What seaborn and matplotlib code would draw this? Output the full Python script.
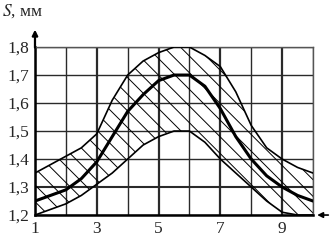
import numpy as np
import pandas as pd
import seaborn as sns
import matplotlib.pyplot as plt

# values (x step 0.5)
x_vals = [1, 1.5, 2, 2.5, 3, 3.5, 4, 4.5, 5, 5.5, 6, 6.5, 7, 7.5, 8, 8.5, 9, 9.5, 10]
upper = [1.35, 1.38, 1.41, 1.44, 1.49, 1.61, 1.70, 1.75, 1.78, 1.80, 1.80, 1.77,
         1.73, 1.64, 1.52, 1.44, 1.40, 1.37, 1.35]
middle = [1.25, 1.27, 1.29, 1.33, 1.39, 1.48, 1.57, 1.63, 1.68, 1.70, 1.70, 1.66,
          1.58, 1.48, 1.40, 1.34, 1.30, 1.27, 1.25]
lower = [1.20, 1.22, 1.24, 1.27, 1.31, 1.35, 1.40, 1.45, 1.48, 1.50, 1.50, 1.46,
         1.40, 1.35, 1.30, 1.25, 1.21, 1.20, 1.20]

x_ticks = list(range(1, 11))
x_labels = ["1", "", "3", "", "5", "", "7", "", "9", ""]
y_ticks = [1.2, 1.3, 1.4, 1.5, 1.6, 1.7, 1.8]
y_labels = ["1,2", "1,3", "1,4", "1,5", "1,6", "1,7", "1,8"]

df = pd.DataFrame({"x": x_vals, "upper": upper, "middle": middle, "lower": lower})

sns.set_style("white")
plt.rcParams["font.family"] = ["Liberation Serif", "DejaVu Serif"]
plt.rcParams["mathtext.fontset"] = "stix"
plt.rcParams["hatch.color"] = "black"
plt.rcParams["hatch.linewidth"] = 0.7

fig = plt.figure(figsize=(3.32, 2.40), dpi=100)
ax = fig.add_axes([0.1054, 0.104, 0.8374, 0.700])

ax.fill_between(df["x"], df["lower"], df["upper"], facecolor="none",
                edgecolor="black", hatch="\\\\", linewidth=0, zorder=2)
sns.lineplot(data=df, x="x", y="upper", color="black", linewidth=1.2, ax=ax, zorder=3)
sns.lineplot(data=df, x="x", y="lower", color="black", linewidth=1.2, ax=ax, zorder=3)
sns.lineplot(data=df, x="x", y="middle", color="black", linewidth=2.2, ax=ax, zorder=4)

ax.set_xlim(1, 10)
ax.set_ylim(1.2, 1.8)
ax.set_xticks(x_ticks)
ax.set_xticklabels(x_labels)
ax.set_yticks(y_ticks)
ax.set_yticklabels(y_labels)
ax.tick_params(length=0, labelsize=12.5, pad=4)
ax.set_xlabel("")
ax.set_ylabel("")

ax.grid(True, color="#2a2a2a", linewidth=1.0)
for i, gl in enumerate(ax.get_xgridlines()):
    gl.set_linewidth(1.6 if i % 2 == 0 else 1.0)
for i, gl in enumerate(ax.get_ygridlines()):
    gl.set_linewidth(1.5 if y_ticks[i] == 1.3 else 1.0)

for side in ["top", "right"]:
    ax.spines[side].set_linewidth(1.0)
    ax.spines[side].set_color("#555555")
for side in ["left", "bottom"]:
    ax.spines[side].set_linewidth(1.8)
    ax.spines[side].set_color("black")

# axis arrows
ax.annotate("", xy=(0, 1.12), xytext=(0, 0.98), xycoords="axes fraction",
            arrowprops=dict(arrowstyle="-|>", color="black", lw=1.6, mutation_scale=8),
            annotation_clip=False)
ax.annotate("", xy=(1.005, 0), xytext=(1.065, 0), xycoords="axes fraction",
            arrowprops=dict(arrowstyle="-|>", color="black", lw=1.2, mutation_scale=8),
            annotation_clip=False)

fig.text(0.005, 0.99, "$S$, мм", ha="left", va="top", fontsize=12.5)

fig.savefig("out.png", dpi=100)
